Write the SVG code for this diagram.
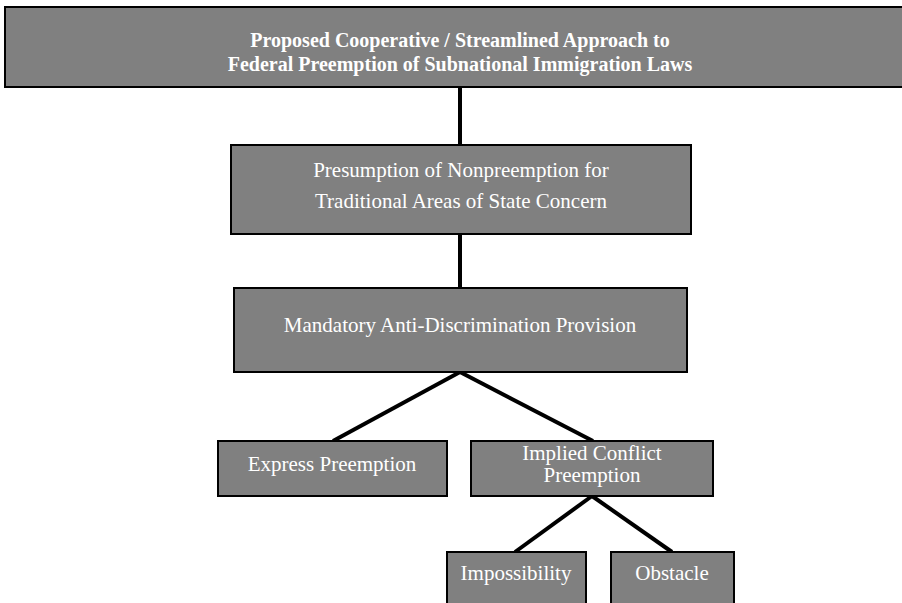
<svg xmlns="http://www.w3.org/2000/svg" width="902" height="603" viewBox="0 0 902 603">
<style>
.box{fill:#808080;stroke:#000;stroke-width:2}
.t{font-family:"Liberation Serif","Times New Roman",serif;font-size:21px;fill:#fff;text-anchor:middle}
.tb{font-family:"Liberation Serif","Times New Roman",serif;font-size:20px;font-weight:bold;fill:#fff;text-anchor:middle}
.c{stroke:#000;stroke-width:4;fill:none}
</style>
<rect width="902" height="603" fill="#fff"/>
<g id="connectors">
<line class="c" x1="460" y1="87" x2="460" y2="145"/>
<line class="c" x1="460" y1="235" x2="460" y2="288"/>
<line class="c" x1="460" y1="372" x2="333" y2="441"/>
<line class="c" x1="460" y1="372" x2="593" y2="441"/>
<line class="c" x1="592" y1="496" x2="515" y2="552"/>
<line class="c" x1="592" y1="496" x2="672" y2="552"/>
</g>
<g id="n-top">
<rect class="box" x="5" y="7" width="905" height="80"/>
<text class="tb" x="460" y="47">Proposed Cooperative / Streamlined Approach to</text>
<text class="tb" x="460" y="71">Federal Preemption of Subnational Immigration Laws</text>
</g>
<g id="n-presumption">
<rect class="box" x="231" y="145" width="460" height="89"/>
<text class="t" x="461" y="177">Presumption of Nonpreemption for</text>
<text class="t" x="461" y="208">Traditional Areas of State Concern</text>
</g>
<g id="n-mandatory">
<rect class="box" x="234" y="288" width="453" height="84"/>
<text class="t" x="460" y="332">Mandatory Anti-Discrimination Provision</text>
</g>
<g id="n-express">
<rect class="box" x="218" y="441" width="229" height="55"/>
<text class="t" x="332" y="471">Express Preemption</text>
</g>
<g id="n-implied">
<rect class="box" x="471" y="441" width="242" height="55"/>
<text class="t" x="592" y="460">Implied Conflict</text>
<text class="t" x="592" y="482">Preemption</text>
</g>
<g id="n-impossibility">
<rect class="box" x="447" y="552" width="139" height="60"/>
<text class="t" x="516" y="580">Impossibility</text>
</g>
<g id="n-obstacle">
<rect class="box" x="611" y="552" width="123" height="60"/>
<text class="t" x="672" y="580">Obstacle</text>
</g>
</svg>
